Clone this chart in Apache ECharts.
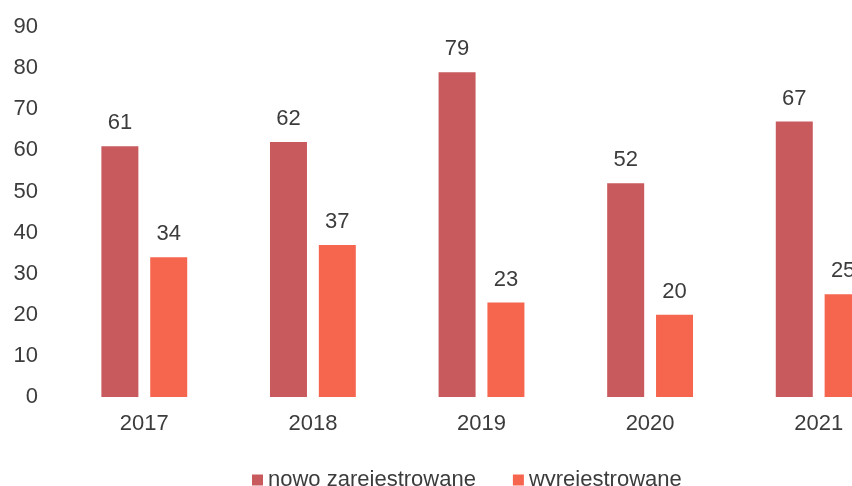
<!DOCTYPE html>
<html>
<head>
<meta charset="utf-8">
<script src="https://cdn.jsdelivr.net/npm/echarts@6/dist/echarts.min.js"></script>
<style>
html,body{margin:0;padding:0;background:#fff;overflow:hidden;width:852px;height:486px;}
#main{width:910px;height:486px;}
</style>
</head>
<body>
<div id="main"></div>
<script>
var categories = ['2017', '2018', '2019', '2020', '2021'];
var seriesNames = ['nowo zarejestrowane', 'wyrejestrowane'];
var nowoZarejestrowane = [61, 62, 79, 52, 67];
var wyrejestrowane = [34, 37, 23, 20, 25];
var yTicks = { min: 0, max: 90, interval: 10 };

var FONT = 'Liberation Sans, Arial, sans-serif';
var TXT = '#3c3c3c';
var chart = echarts.init(document.getElementById('main'), null, { renderer: 'canvas' });
chart.setOption({
  animation: false,
  backgroundColor: '#ffffff',
  textStyle: { fontFamily: FONT },
  grid: { left: 60, top: 27, width: 843, height: 370, containLabel: false },
  legend: {
    data: seriesNames,
    left: 247,
    top: 464,
    itemWidth: 11,
    itemHeight: 11,
    itemGap: 37,
    icon: 'rect',
    textStyle: { fontSize: 22, color: TXT, fontFamily: FONT }
  },
  xAxis: {
    type: 'category',
    data: categories,
    axisLine: { show: false },
    axisTick: { show: false },
    axisLabel: { fontSize: 22, color: TXT, margin: 16, fontFamily: FONT }
  },
  yAxis: {
    type: 'value',
    min: yTicks.min,
    max: yTicks.max,
    interval: yTicks.interval,
    axisLine: { show: false },
    axisTick: { show: false },
    splitLine: { show: false },
    axisLabel: { fontSize: 22, color: TXT, margin: 22, fontFamily: FONT }
  },
  series: [
    {
      name: seriesNames[0],
      type: 'bar',
      data: nowoZarejestrowane,
      barWidth: 37,
      barGap: '32%',
      itemStyle: { color: '#c85a5e' },
      label: { show: true, position: 'top', distance: 12, fontSize: 22, color: TXT, fontFamily: FONT }
    },
    {
      name: seriesNames[1],
      type: 'bar',
      data: wyrejestrowane,
      barWidth: 37,
      barGap: '32%',
      itemStyle: { color: '#f6664f' },
      label: { show: true, position: 'top', distance: 12, fontSize: 22, color: TXT, fontFamily: FONT }
    }
  ]
});
</script>
</body>
</html>
